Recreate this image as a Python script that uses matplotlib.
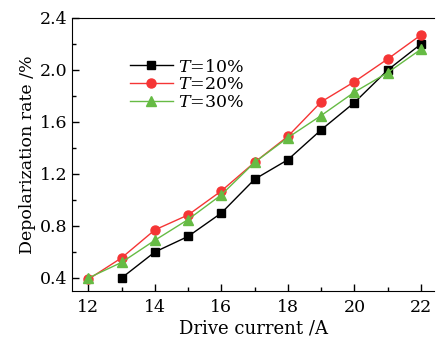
import matplotlib
matplotlib.use('Agg')
import matplotlib.pyplot as plt
from matplotlib.ticker import MultipleLocator

# Data
current = [12, 13, 14, 15, 16, 17, 18, 19, 20, 21, 22]
t10_x = [13, 14, 15, 16, 17, 18, 19, 20, 21, 22]
t10 = [0.40, 0.60, 0.72, 0.90, 1.16, 1.31, 1.54, 1.75, 2.00, 2.20]
t20 = [0.39, 0.555, 0.77, 0.885, 1.07, 1.29, 1.49, 1.755, 1.91, 2.085, 2.27]
t30 = [0.40, 0.52, 0.69, 0.85, 1.04, 1.29, 1.48, 1.65, 1.83, 1.98, 2.16]
labels = ['$T$=10%', '$T$=20%', '$T$=30%']

plt.rcParams['font.family'] = 'DejaVu Serif'
plt.rcParams['mathtext.fontset'] = 'dejavuserif'

fig = plt.figure(figsize=(4.36, 3.39), dpi=100)
ax = fig.add_axes([72 / 436, 48 / 339, 362 / 436, 273 / 339])

ax.plot(t10_x, t10, '-', color='black', lw=1.0, marker='s', ms=6, label=labels[0])
ax.plot(current, t20, '-', color='#f53535', lw=1.0, marker='o', ms=6.5, label=labels[1])
ax.plot(current, t30, '-', color='#66bb44', lw=1.0, marker='^', ms=7, label=labels[2])

ax.set_xlim(11.51, 22.39)
ax.set_ylim(0.30, 2.40)
ax.xaxis.set_major_locator(MultipleLocator(2))
ax.xaxis.set_minor_locator(MultipleLocator(1))
ax.yaxis.set_minor_locator(MultipleLocator(0.2))
ax.set_yticks([0.4, 0.8, 1.2, 1.6, 2.0, 2.4])
ax.tick_params(which='both', direction='in', top=False, right=False, labelsize=12.5)
ax.tick_params(axis='x', which='major', pad=6)
ax.tick_params(axis='y', which='major', pad=3)
ax.tick_params(which='major', length=5, width=1)
ax.tick_params(which='minor', length=3, width=1)
ax.spines['right'].set_visible(False)

ax.set_xlabel('Drive current /A', fontsize=13, labelpad=2)
ax.set_ylabel('Depolarization rate /%', fontsize=12.5, labelpad=3)

ax.legend(loc='upper left', bbox_to_anchor=(0.14, 0.877), frameon=False,
          fontsize=12.5, handlelength=2.5, handletextpad=0.3, labelspacing=0.05,
          borderaxespad=0)

fig.savefig('out.png', dpi=100)
